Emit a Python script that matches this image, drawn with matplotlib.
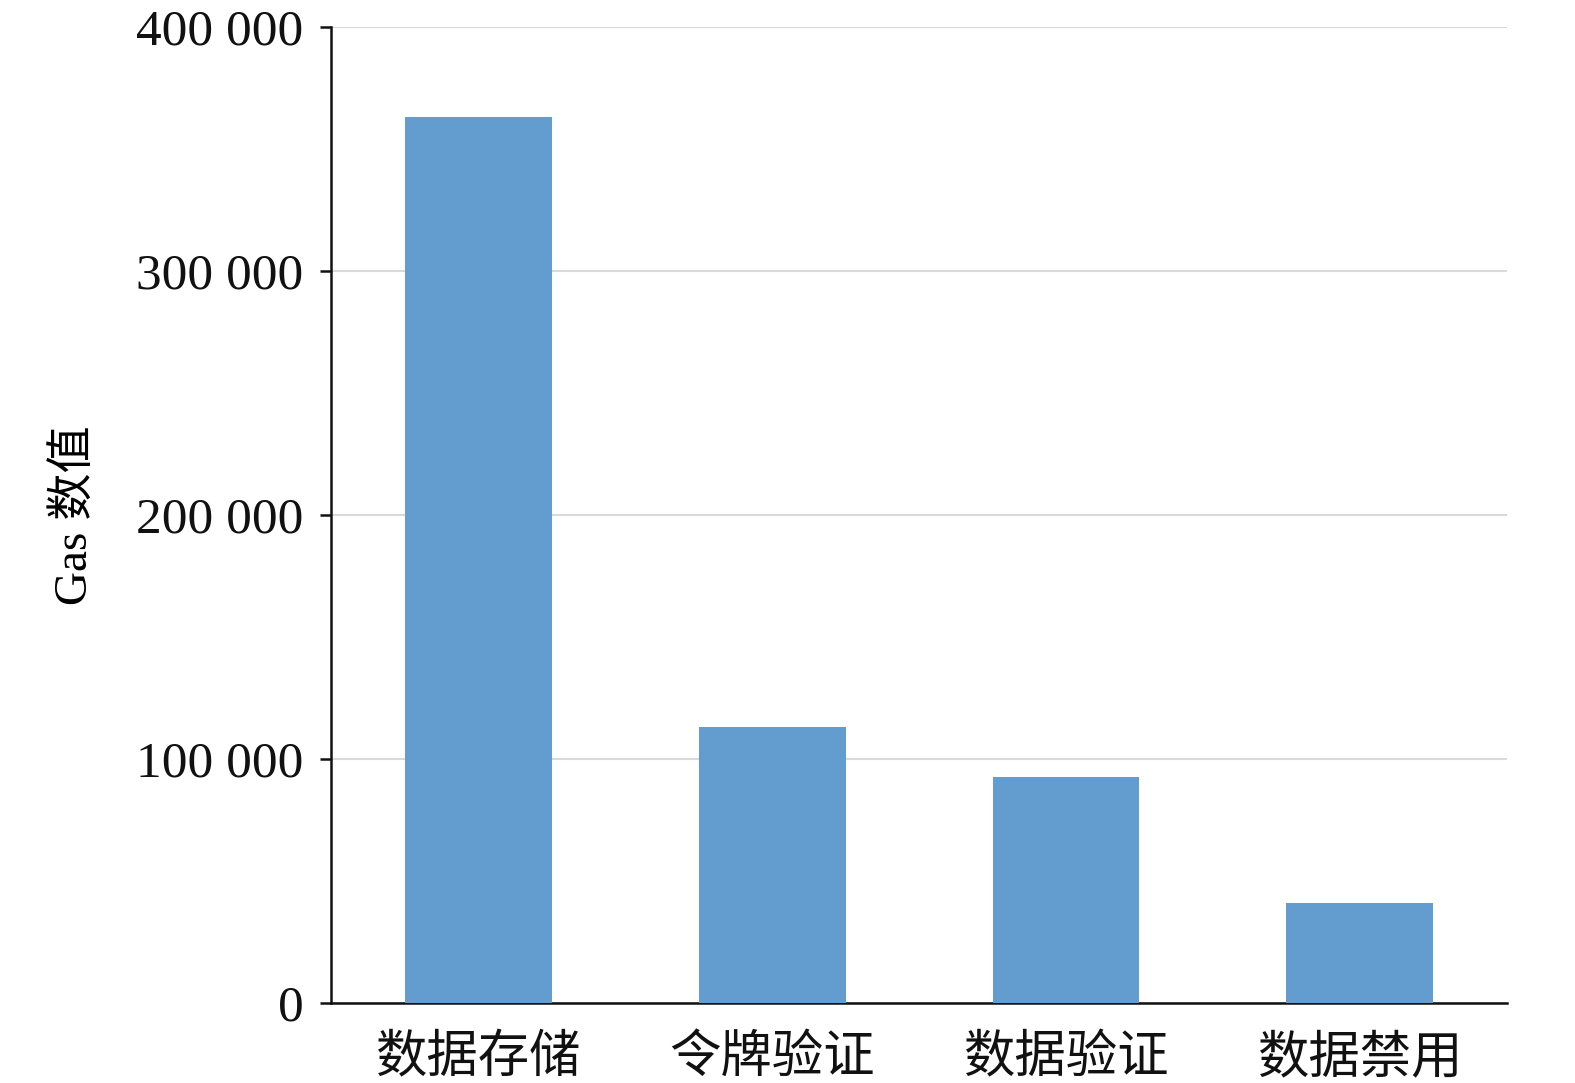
import matplotlib
matplotlib.use('Agg')
import matplotlib.pyplot as plt

plt.rcParams['font.family'] = ['Liberation Serif', 'Noto Sans CJK SC', 'DejaVu Sans']

categories = ['数据存储', '令牌验证', '数据验证', '数据禁用']
gas_values = [363000, 113000, 92600, 41000]
y_ticks = [0, 100000, 200000, 300000, 400000]
y_tick_labels = [f'{v:,}'.replace(',', ' ') for v in y_ticks]

fig = plt.figure(figsize=(15.75, 10.83), dpi=100)
ax = fig.add_axes([0.2102, 0.0739, 0.7466, 0.9012])

ax.bar(range(len(categories)), gas_values, width=0.5, color='#639dcf', zorder=3)

ax.set_xlim(-0.5, 3.5)
ax.set_ylim(0, 400000)
ax.set_yticks(y_ticks)
ax.set_yticklabels(y_tick_labels, fontsize=37)
ax.set_xticks(range(len(categories)))
ax.set_xticklabels(categories, fontsize=37, family=['Noto Sans CJK SC'])

ax.yaxis.grid(True, color='#d9d9d9', linewidth=1.5, zorder=0)
ax.set_axisbelow(True)

for s in ['top', 'right']:
    ax.spines[s].set_visible(False)
for s in ['left', 'bottom']:
    ax.spines[s].set_color('#111111')
    ax.spines[s].set_linewidth(1.8)

ax.tick_params(axis='y', length=8, width=1.8, pad=12, colors='#111111')
ax.tick_params(axis='x', length=0, pad=20, colors='#111111')

ax.set_ylabel('Gas 数值', fontsize=34, labelpad=28)

fig.savefig('out.png', dpi=100, facecolor='white')
